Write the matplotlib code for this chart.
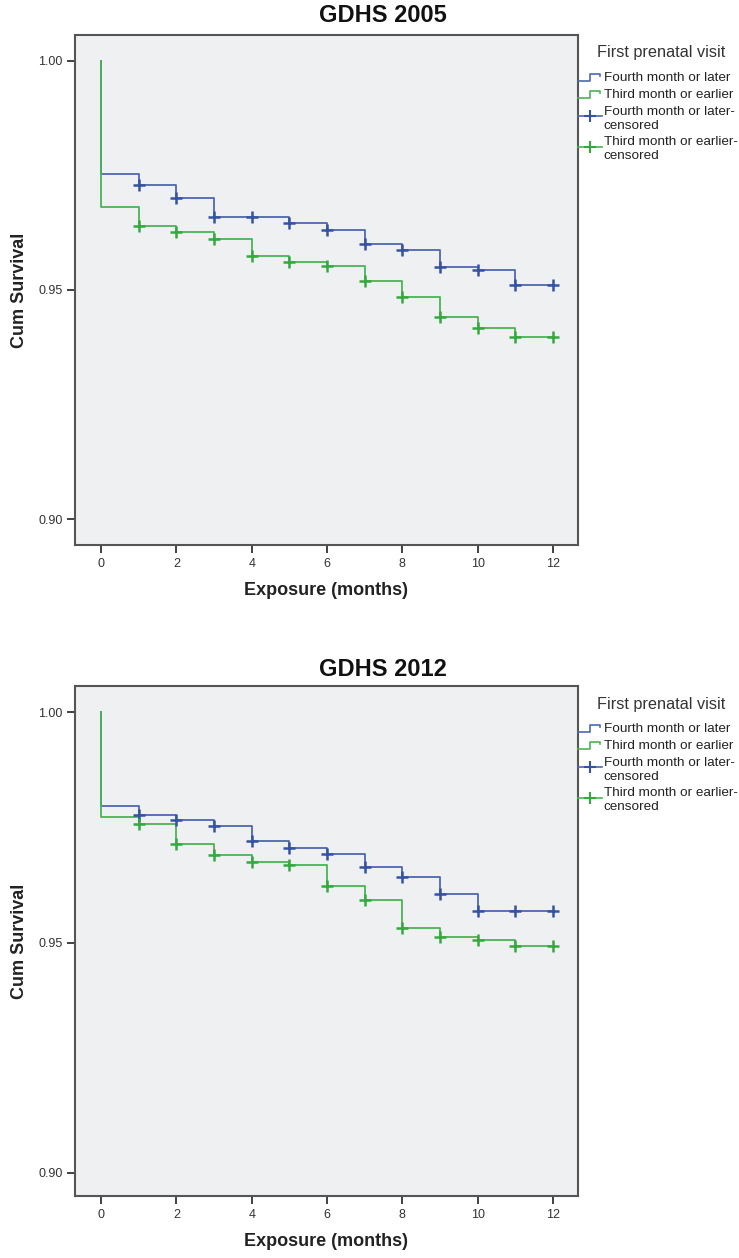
import matplotlib
matplotlib.use("Agg")
import matplotlib.pyplot as plt
from matplotlib.lines import Line2D
from matplotlib.legend_handler import HandlerBase

plt.rcParams['font.family'] = ['Liberation Sans', 'DejaVu Sans']

months = [0, 1, 2, 3, 4, 5, 6, 7, 8, 9, 10, 11, 12]
censor_months = [1, 2, 3, 4, 5, 6, 7, 8, 9, 10, 11, 12]
x_ticks = [0, 2, 4, 6, 8, 10, 12]
y_ticks = [0.90, 0.95, 1.00]
y_tick_labels = ["0.90", "0.95", "1.00"]

# survival level after each month (0..12)
surv_2005_late = [0.9753, 0.9729, 0.9700, 0.9658, 0.9658, 0.9647, 0.9631, 0.9601,
                  0.9587, 0.9551, 0.9544, 0.9510, 0.9510]
surv_2005_early = [0.9681, 0.9640, 0.9626, 0.9612, 0.9574, 0.9560, 0.9552, 0.9520,
                   0.9485, 0.9442, 0.9418, 0.9398, 0.9398]
surv_2012_late = [0.9797, 0.9777, 0.9766, 0.9754, 0.9720, 0.9705, 0.9693, 0.9664,
                  0.9642, 0.9606, 0.9568, 0.9568, 0.9568]
surv_2012_early = [0.9772, 0.9757, 0.9715, 0.9690, 0.9674, 0.9669, 0.9622, 0.9592,
                   0.9532, 0.9513, 0.9506, 0.9493, 0.9493]

titles = ["GDHS 2005", "GDHS 2012"]
legend_title = "First prenatal visit"
labels = ["Fourth month or later", "Third month or earlier",
          "Fourth month or later-\ncensored", "Third month or earlier-\ncensored"]

BLUE = '#4f67b0'
BLUE_D = '#3552a3'
GREEN = '#4bb554'
GREEN_D = '#35a840'
BG = '#eff0f2'
SPINE = '#555555'


class StepHandler(HandlerBase):
    def __init__(self, color):
        super().__init__()
        self.color = color

    def create_artists(self, legend, orig_handle, xdescent, ydescent, width, height, fontsize, trans):
        x0, w, h = -xdescent, width, height
        y0 = -ydescent
        xs = [x0, x0 + 0.5 * w, x0 + 0.5 * w, x0 + 0.95 * w, x0 + 0.95 * w]
        ys = [y0 + 0.0 * h, y0 + 0.0 * h, y0 + 0.8 * h, y0 + 0.8 * h, y0 + 0.55 * h]
        ln = Line2D(xs, ys, color=self.color, lw=1.2, transform=trans)
        return [ln]


class CensorHandler(HandlerBase):
    def __init__(self, color, mcolor):
        super().__init__()
        self.color = color
        self.mcolor = mcolor

    def create_artists(self, legend, orig_handle, xdescent, ydescent, width, height, fontsize, trans):
        x0, w, h = -xdescent, width, height
        y0 = -ydescent
        yy = y0 + 0.4 * h + 0.22 * fontsize
        ln = Line2D([x0, x0 + w], [yy, yy], color=self.color, lw=1.2, transform=trans)
        mk = Line2D([x0 + 0.5 * w], [yy], marker='+', ms=8, mew=1.5,
                    color=self.mcolor, linestyle='none', transform=trans)
        return [ln, mk]


fig = plt.figure(figsize=(7.39, 12.58), dpi=100)
W, H = 739.0, 1258.0
panels = [
    (surv_2005_late, surv_2005_early, 35, 545, (0.89444, 1.00556), 16),
    (surv_2012_late, surv_2012_early, 686, 1196, (0.8949, 1.00576), 670),
]

for i, (late, early, top, bot, ylim, title_y) in enumerate(panels):
    ax = fig.add_axes([75 / W, 1 - bot / H, 503 / W, (bot - top) / H])
    ax.set_facecolor(BG)
    xs = [0] + months
    h_late, = ax.plot(xs, [1.0] + late, drawstyle='steps-post', color=BLUE, lw=1.3, zorder=3)
    h_early, = ax.plot(xs, [1.0] + early, drawstyle='steps-post', color=GREEN, lw=1.3, zorder=4)
    c_late, = ax.plot(censor_months, late[1:], linestyle='none', marker='+', ms=8, mew=1.8,
                      color=BLUE_D, zorder=5)
    c_early, = ax.plot(censor_months, early[1:], linestyle='none', marker='+', ms=8, mew=1.8,
                       color=GREEN_D, zorder=5)
    ax.set_xlim(-0.69, 12.66)
    ax.set_ylim(*ylim)
    ax.set_xticks(x_ticks)
    ax.set_yticks(y_ticks)
    ax.set_yticklabels(y_tick_labels)
    for s in ax.spines.values():
        s.set_color(SPINE)
        s.set_linewidth(1.5)
    ax.tick_params(axis='both', direction='out', length=6, width=1.3, color='#333333',
                   labelsize=9, labelcolor='#333333', pad=3)
    ax.set_xlabel("Exposure (months)", fontsize=13, fontweight='bold', color='#222222', labelpad=9)
    ax.set_ylabel("Cum Survival", fontsize=13, fontweight='bold', color='#222222', labelpad=7)
    fig.text(383 / W, 1 - title_y / H, titles[i], fontsize=17, fontweight='bold', color='#111111',
             ha='center', va='center')
    ax.text((661 - 75) / 503, 1 - 18 / 510, legend_title, transform=ax.transAxes,
            fontsize=11.7, color='#333333', ha='center', va='center')
    leg = ax.legend([h_late, h_early, c_late, c_early], labels,
                    handler_map={h_late: StepHandler(BLUE), h_early: StepHandler(GREEN),
                                 c_late: CensorHandler(BLUE, BLUE_D), c_early: CensorHandler(GREEN, GREEN_D)},
                    loc='upper left', bbox_to_anchor=(1.0, 1 - 37 / 510),
                    frameon=False, fontsize=9.7, borderaxespad=0, borderpad=0,
                    handlelength=1.75, handletextpad=0.15, labelspacing=0.33)
    for t in leg.get_texts():
        t.set_color('#222222')
        t.set_linespacing(1.2)

fig.savefig("out.png", dpi=100)
